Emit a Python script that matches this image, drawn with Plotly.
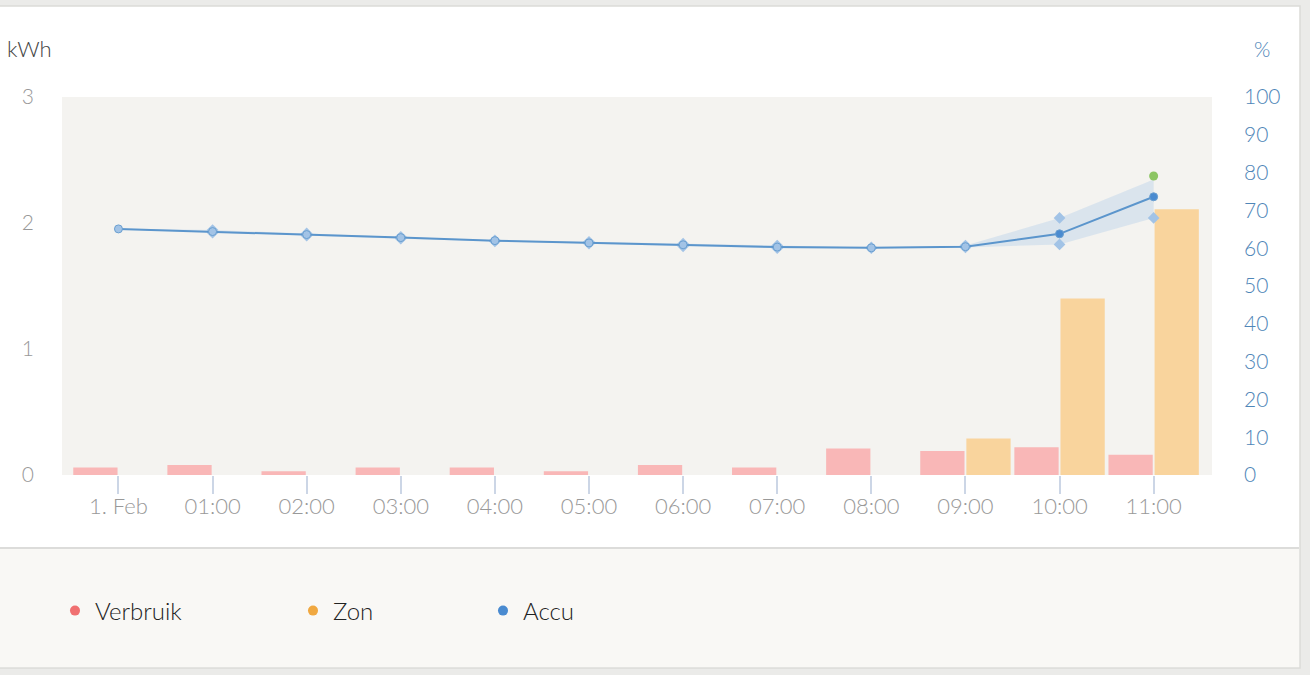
import plotly.graph_objects as go

hours = list(range(12))
tick_labels = ["1. Feb", "01:00", "02:00", "03:00", "04:00", "05:00",
               "06:00", "07:00", "08:00", "09:00", "10:00", "11:00"]
verbruik = [0.06, 0.08, 0.03, 0.06, 0.06, 0.03, 0.08, 0.06, 0.21, 0.19, 0.22, 0.16]
zon = [0, 0, 0, 0, 0, 0, 0, 0, 0, 0.29, 1.40, 2.11]
accu = [65.1, 64.4, 63.6, 62.8, 62.0, 61.4, 60.9, 60.3, 60.1, 60.4, 63.8, 73.6]
accu_min = [65.0, 64.1, 63.3, 62.5, 61.8, 61.2, 60.5, 60.0, 60.0, 60.2, 61.0, 68.0]
accu_max = [65.2, 64.8, 63.9, 63.0, 62.1, 61.7, 61.2, 60.7, 60.2, 60.7, 68.0, 78.2]
accu_last_x = [11]
accu_last = [79.1]

W, H = 1310, 675
L, R, T, B = 62, 98, 97, 200
PW, PH = W - L - R, H - T - B


def px(x):
    return (x - L) / PW


def py(y):
    return (H - B - y) / PH


fig = go.Figure()

fig.add_trace(go.Bar(x=hours, y=verbruik, name="Verbruik", marker=dict(color="#f9b7b7", line=dict(width=0)),
                     showlegend=False, offsetgroup="v"))
fig.add_trace(go.Bar(x=hours, y=zon, name="Zon", marker=dict(color="#f9d49d", line=dict(width=0)),
                     showlegend=False, offsetgroup="z"))

# Accu range band
fig.add_trace(go.Scatter(x=hours, y=accu_min, yaxis="y2", mode="lines", line=dict(width=0),
                         showlegend=False, hoverinfo="skip"))
fig.add_trace(go.Scatter(x=hours, y=accu_max, yaxis="y2", mode="lines", line=dict(width=0),
                         fill="tonexty", fillcolor="rgba(150,190,230,0.28)", showlegend=False, hoverinfo="skip"))
# range diamonds
fig.add_trace(go.Scatter(x=hours[1:], y=accu_min[1:], yaxis="y2", mode="markers",
                         marker=dict(symbol="diamond", size=9, color="#a2c3e6"), showlegend=False))
fig.add_trace(go.Scatter(x=hours[1:11], y=accu_max[1:11], yaxis="y2", mode="markers",
                         marker=dict(symbol="diamond", size=9, color="#a2c3e6"), showlegend=False))
# main line
mcol = ["#a2c3e6"] * 10 + ["#4a8bd0", "#4a8bd0"]
fig.add_trace(go.Scatter(x=hours, y=accu, yaxis="y2", mode="lines+markers", name="Accu",
                         line=dict(color="#5b95cc", width=2),
                         marker=dict(size=8, color=mcol, line=dict(color="#6a9fd0", width=1)),
                         showlegend=False))
fig.add_trace(go.Scatter(x=accu_last_x, y=accu_last, yaxis="y2", mode="markers",
                         marker=dict(size=9, color="#8cc563"), showlegend=False))

# legend entries
leg_cols = [("Verbruik", "#f07070", "legend"), ("Zon", "#f0a840", "legend2"), ("Accu", "#4a8bd0", "legend3")]
for name, col, lg in leg_cols:
    fig.add_trace(go.Scatter(x=[None], y=[None], mode="markers", name=name,
                             marker=dict(size=10, color=col), legend=lg))

leg_common = dict(orientation="h", bgcolor="rgba(0,0,0,0)", borderwidth=0, yanchor="middle",
                  y=py(611), xanchor="left",
                  font=dict(family="Lato", size=24, color="#222222", weight=300),
                  itemsizing="trace")

shapes = [
    dict(type="rect", xref="paper", yref="paper", x0=px(-20), x1=px(1300), y0=py(668), y1=py(6),
         fillcolor="white", line=dict(color="#dcdcd8", width=1.5), layer="below"),
    dict(type="rect", xref="paper", yref="paper", x0=px(0), x1=px(1299), y0=py(667), y1=py(548),
         fillcolor="#f9f8f5", line=dict(width=0), layer="below"),
    dict(type="line", xref="paper", yref="paper", x0=px(0), x1=px(1299), y0=py(548), y1=py(548),
         line=dict(color="#dcdcda", width=2), layer="below"),
    dict(type="rect", xref="paper", yref="paper", x0=0, x1=1, y0=0, y1=1,
         fillcolor="#f4f3f0", line=dict(width=0), layer="below"),
]

annotations = [
    dict(text="kWh", xref="paper", yref="paper", x=px(5), y=py(48), xanchor="left", yanchor="middle",
         showarrow=False, font=dict(family="Lato", size=22, color="#444444", weight=300)),
    dict(text="%", xref="paper", yref="paper", x=px(1262), y=py(48), xanchor="center", yanchor="middle",
         showarrow=False, font=dict(family="Lato", size=21, color="#4f86b8", weight=300)),
]

fig.update_layout(
    width=W, height=H,
    margin=dict(l=L, r=R, t=T, b=B, pad=0),
    paper_bgcolor="#ebebe9",
    plot_bgcolor="rgba(0,0,0,0)",
    barmode="group", bargap=0.02, bargroupgap=0.04,
    font=dict(family="Lato", color="#999999"),
    xaxis=dict(range=[-0.6, 11.62], tickvals=hours, ticktext=tick_labels, ticks="outside",
               ticklen=18, tickcolor="#ccd6e6", tickwidth=2, showgrid=False, zeroline=False,
               showline=False, tickfont=dict(family="Lato", size=22, color="#999999", weight=300),
               ticklabelstandoff=-6, fixedrange=True),
    yaxis=dict(range=[0, 3], tickvals=[0, 1, 2, 3], showgrid=False, zeroline=False, showline=False,
               tickfont=dict(family="Lato", size=21, color="#999999", weight=300), ticklabelstandoff=27),
    yaxis2=dict(range=[0, 100], tickvals=list(range(0, 101, 10)), overlaying="y", side="right",
                showgrid=False, zeroline=False, showline=False,
                tickfont=dict(family="Lato", size=21, color="#4f86b8", weight=300), ticklabelstandoff=31),
    legend=dict(leg_common, x=px(55)),
    legend2=dict(leg_common, x=px(293)),
    legend3=dict(leg_common, x=px(483)),
    shapes=shapes,
    annotations=annotations,
)

fig.write_html("out.html", config={"displayModeBar": False},
               post_script="document.body.style.margin='0';document.body.style.background='#ebebe9';")
